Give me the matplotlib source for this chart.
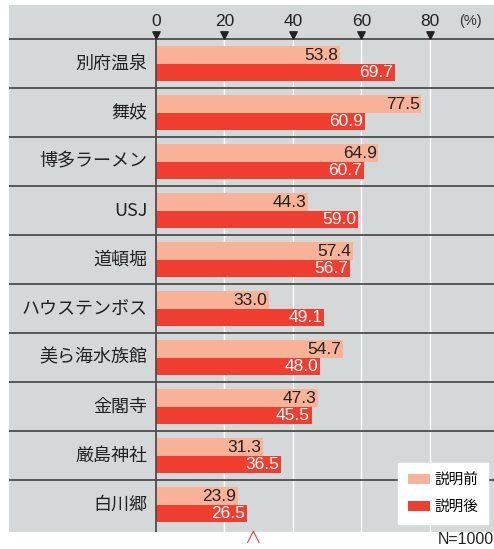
import numpy as np
import matplotlib
matplotlib.use("Agg")
import matplotlib.pyplot as plt
from matplotlib.patches import Patch

plt.rcParams["font.family"] = ["Liberation Sans", "Noto Sans CJK JP", "DejaVu Sans"]

# data
places = ["別府温泉", "舞妓", "博多ラーメン", "USJ", "道頓堀",
          "ハウステンボス", "美ら海水族館", "金閣寺", "厳島神社", "白川郷"]
before = [53.8, 77.5, 64.9, 44.3, 57.4, 33.0, 54.7, 47.3, 31.3, 23.9]
after = [69.7, 60.9, 60.7, 59.0, 56.7, 49.1, 48.0, 45.5, 36.5, 26.5]
xticks = [0, 20, 40, 60, 80]
legend_labels = ["説明前", "説明後"]

c_before = "#f8b298"
c_after = "#ef3e30"
bg = "#d5d8d9"
line_c = "#4d4d4d"
cjk = ["Noto Sans CJK JP", "DejaVu Sans"]

fig = plt.figure(figsize=(4.94, 5.49), dpi=100)
ax = fig.add_axes([9 / 494, 17 / 549, 485 / 494, 527 / 549])
ax.set_facecolor(bg)

n = len(places)
y = np.arange(n)
h = 0.35

xmin, xmax = -42.9, 98.7
ax.set_xlim(xmin, xmax)
ax.set_ylim(9.56, -1.194)

# white grid lines
for t in xticks[1:]:
    ax.plot([t, t], [-0.5, 9.56], color="white", lw=1.0, zorder=1)

ax.barh(y - h / 2, before, height=h, color=c_before, zorder=2)
ax.barh(y + h / 2, after, height=h, color=c_after, zorder=2)

for i in range(n):
    ax.text(before[i] - 0.5, y[i] - h / 2 + 0.01, f"{before[i]:.1f}", ha="right",
            va="center", fontsize=12.5, color="#222222", zorder=3)
    ax.text(after[i] - 0.5, y[i] + h / 2 + 0.01, f"{after[i]:.1f}", ha="right",
            va="center", fontsize=12.5, color="white", zorder=3)
    ax.text(-2.4, y[i], places[i], ha="right", va="center", fontsize=13,
            color="#222222", family=cjk)

# row separators
for b in np.arange(-0.5, n - 0.5, 1.0):
    ax.plot([xmin, xmax], [b, b], color=line_c, lw=1.3, zorder=4)

# zero axis line
ax.plot([0, 0], [-0.58, 9.56], color=line_c, lw=1.3, zorder=4)

# top tick marks and labels
ax.scatter(xticks, [-0.585] * len(xticks), marker="v", s=28, color="#222222",
           zorder=5, clip_on=False)
for t in xticks:
    ax.text(t, -0.85, str(t), ha="center", va="center", fontsize=12.5,
            color="#222222")
ax.text(91.7, -0.86, "(%)", ha="center", va="center", fontsize=10.5,
        color="#333333")

ax.set_xticks([])
ax.set_yticks([])
for s in ax.spines.values():
    s.set_visible(False)

handles = [Patch(facecolor=c_before), Patch(facecolor=c_after)]
leg = ax.legend(handles, legend_labels, loc="lower right",
                bbox_to_anchor=(0.988, 0.015), frameon=True, fancybox=False,
                framealpha=1, edgecolor="white", prop={"family": cjk, "size": 10.5},
                handlelength=1.5, handleheight=0.7, borderpad=0.7,
                labelspacing=0.9, handletextpad=0.3, borderaxespad=0)
leg.set_zorder(6)

fig.text(438 / 494, 1 - 540 / 549, "N=1000", ha="left", va="center",
         fontsize=11.5, color="#222222")
ax.text(28.3, 9.72, "∧", ha="center", va="center", fontsize=12,
        color=c_after, clip_on=False, family=cjk)

fig.savefig("out.png", dpi=100)
